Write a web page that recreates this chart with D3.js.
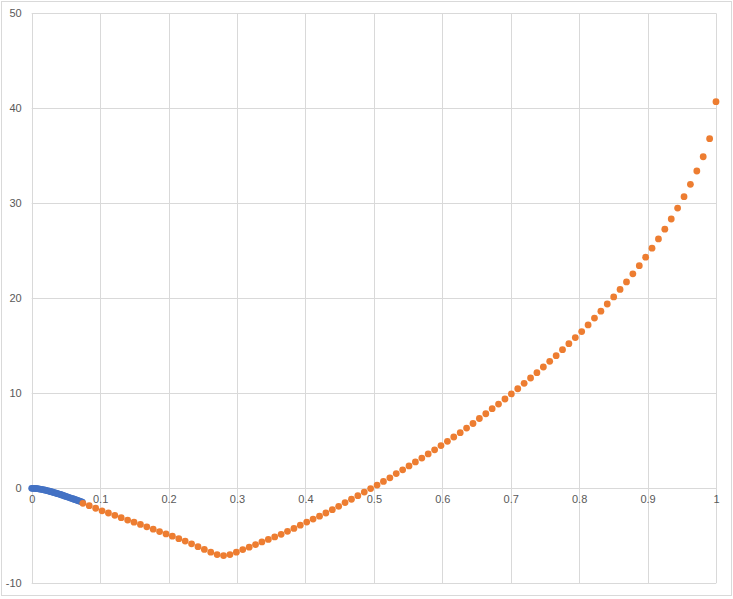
<!DOCTYPE html>
<html>
<head>
<meta charset="utf-8">
<script src="https://cdn.jsdelivr.net/npm/d3@7"></script>
<style>
  body { margin: 0; background: #fff; }
  text { font-family: "Liberation Sans", Arial, sans-serif; }
</style>
</head>
<body>
<svg></svg>
<script>
const w = 733;
const h = 599;

const xTicks = [0, 0.1, 0.2, 0.3, 0.4, 0.5, 0.6, 0.7, 0.8, 0.9, 1];
const yTicks = [-10, 0, 10, 20, 30, 40, 50];

// blue series (dense start of curve)
const blueX = [0, 0.002, 0.004, 0.006, 0.008, 0.01, 0.012, 0.014, 0.016, 0.018,
  0.02, 0.022, 0.024, 0.026, 0.028, 0.03, 0.032, 0.034, 0.036, 0.038,
  0.04, 0.042, 0.044, 0.046, 0.048, 0.05, 0.052, 0.054, 0.056, 0.058,
  0.06, 0.062, 0.064, 0.066, 0.068, 0.07, 0.072, 0.074];
const blueY = [0, -0.003, -0.01, -0.02, -0.035, -0.055, -0.08, -0.105, -0.135, -0.165,
  -0.2, -0.235, -0.27, -0.31, -0.35, -0.39, -0.43, -0.475, -0.52, -0.565,
  -0.61, -0.655, -0.7, -0.75, -0.8, -0.85, -0.9, -0.95, -1.0, -1.05,
  -1.1, -1.15, -1.2, -1.25, -1.3, -1.35, -1.4, -1.45];

// orange series
const orangeX = [0.0748, 0.0841, 0.0935, 0.1028, 0.1121, 0.1215, 0.1308, 0.1402, 0.1495, 0.1589,
  0.1682, 0.1776, 0.1869, 0.1963, 0.2056, 0.215, 0.2243, 0.2336, 0.243, 0.2523,
  0.2617, 0.271, 0.2804, 0.2897, 0.2991, 0.3084, 0.3178, 0.3271, 0.3364, 0.3458,
  0.3551, 0.3645, 0.3738, 0.3832, 0.3925, 0.4019, 0.4112, 0.4206, 0.4299, 0.4393,
  0.4486, 0.4579, 0.4673, 0.4766, 0.486, 0.4953, 0.5047, 0.514, 0.5234, 0.5327,
  0.5421, 0.5514, 0.5607, 0.5701, 0.5794, 0.5888, 0.5981, 0.6075, 0.6168, 0.6262,
  0.6355, 0.6449, 0.6542, 0.6636, 0.6729, 0.6822, 0.6916, 0.7009, 0.7103, 0.7196,
  0.729, 0.7383, 0.7477, 0.757, 0.7664, 0.7757, 0.785, 0.7944, 0.8037, 0.8131,
  0.8224, 0.8318, 0.8411, 0.8505, 0.8598, 0.8692, 0.8785, 0.8879, 0.8972, 0.9065,
  0.9159, 0.9252, 0.9346, 0.9439, 0.9533, 0.9626, 0.972, 0.9813, 0.9907, 1.0];
const orangeY = [-1.58, -1.83, -2.1, -2.37, -2.6, -2.84, -3.09, -3.34, -3.57, -3.8,
  -4.05, -4.3, -4.55, -4.8, -5.04, -5.3, -5.56, -5.84, -6.14, -6.43,
  -6.72, -6.98, -7.08, -6.98, -6.72, -6.45, -6.2, -5.92, -5.65, -5.38,
  -5.12, -4.84, -4.53, -4.22, -3.88, -3.56, -3.24, -2.93, -2.6, -2.25,
  -1.9, -1.5, -1.15, -0.78, -0.4, -0.03, 0.34, 0.72, 1.1, 1.55,
  1.95, 2.36, 2.78, 3.18, 3.62, 4.05, 4.5, 4.94, 5.4, 5.86,
  6.34, 6.82, 7.35, 7.85, 8.38, 8.87, 9.4, 9.93, 10.48, 11.05,
  11.61, 12.17, 12.77, 13.37, 13.96, 14.59, 15.22, 15.87, 16.5, 17.2,
  17.92, 18.65, 19.4, 20.14, 20.93, 21.72, 22.58, 23.43, 24.33, 25.28,
  26.25, 27.28, 28.35, 29.5, 30.7, 32.0, 33.4, 34.9, 36.8, 40.7];

const svg = d3.select('svg').attr('width', w).attr('height', h);

// chart border
svg.append('rect')
  .attr('x', 1.5).attr('y', 1.5)
  .attr('width', w - 3).attr('height', 594)
  .attr('fill', '#fff')
  .attr('stroke', '#d9d9d9');

const xScale = d3.scaleLinear().domain([0, 1]).range([31.7, 716]);
const yScale = d3.scaleLinear().domain([-10, 50]).range([583.3, 13.3]);

// gridlines
svg.append('g')
  .selectAll('line')
  .data(yTicks)
  .enter()
  .append('line')
  .attr('x1', xScale(0)).attr('x2', xScale(1))
  .attr('y1', (d) => Math.round(yScale(d)) + 0.5)
  .attr('y2', (d) => Math.round(yScale(d)) + 0.5)
  .attr('stroke', '#d9d9d9');

svg.append('g')
  .selectAll('line')
  .data(xTicks)
  .enter()
  .append('line')
  .attr('x1', (d) => Math.round(xScale(d)) + 0.5)
  .attr('x2', (d) => Math.round(xScale(d)) + 0.5)
  .attr('y1', yScale(50)).attr('y2', yScale(-10))
  .attr('stroke', '#d9d9d9');

// axes (labels only)
const yAxis = d3.axisLeft(yScale).tickValues(yTicks).tickSize(0).tickPadding(10)
  .tickFormat((d) => String(d));
const xAxis = d3.axisBottom(xScale).tickValues(xTicks).tickSize(0).tickPadding(7)
  .tickFormat((d) => String(d));

const gy = svg.append('g').attr('transform', `translate(${xScale(0)}, 0)`).call(yAxis);
const gx = svg.append('g').attr('transform', `translate(0, ${yScale(0)})`).call(xAxis);
[gx, gy].forEach((g) => {
  g.select('.domain').remove();
  g.selectAll('text').attr('fill', '#595959').style('font-size', '11px');
});

// series
svg.append('g')
  .selectAll('circle')
  .data(blueX)
  .enter()
  .append('circle')
  .attr('cx', (d) => xScale(d))
  .attr('cy', (d, i) => yScale(blueY[i]))
  .attr('r', 3.4)
  .attr('fill', '#4472c4');

svg.append('g')
  .selectAll('circle')
  .data(orangeX)
  .enter()
  .append('circle')
  .attr('cx', (d) => xScale(d))
  .attr('cy', (d, i) => yScale(orangeY[i]))
  .attr('r', 3.4)
  .attr('fill', '#ed7d31');
</script>
</body>
</html>
